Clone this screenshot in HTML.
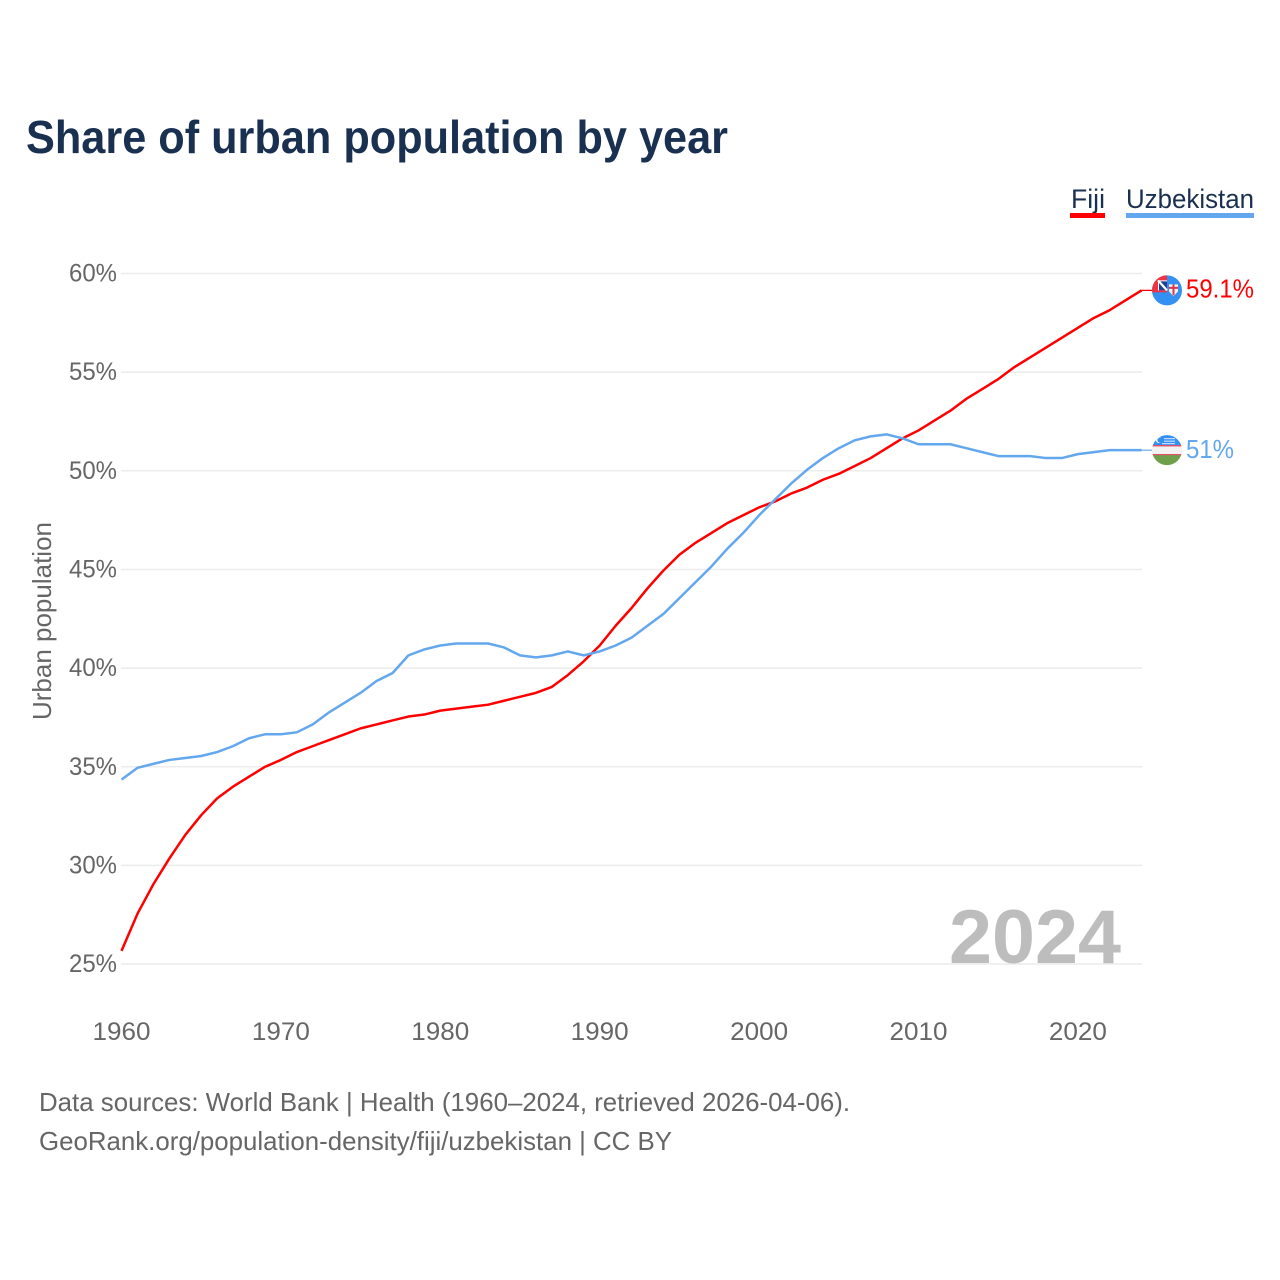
<!DOCTYPE html>
<html lang="en">
<head>
<meta charset="utf-8">
<title>Share of urban population by year</title>
<style>
html,body{margin:0;padding:0;background:#fff;width:1280px;height:1280px;overflow:hidden}
svg{display:block;font-family:"Liberation Sans",sans-serif}
</style>
</head>
<body>
<svg id="chart" width="1280" height="1280" viewBox="0 0 1280 1280" xmlns="http://www.w3.org/2000/svg">
<rect width="1280" height="1280" fill="#fff"/>
<text x="26" y="153" font-size="46" font-weight="700" fill="#1a3050" textLength="702" lengthAdjust="spacingAndGlyphs">Share of urban population by year</text>
<g>
<g>
<text x="1071" y="208" font-size="27" fill="#1a3050" textLength="34" lengthAdjust="spacingAndGlyphs">Fiji</text>
<rect x="1070" y="213" width="35" height="5" fill="#ff0000"/>
</g>
<g>
<text x="1126" y="208" font-size="27" fill="#1a3050" textLength="128" lengthAdjust="spacingAndGlyphs">Uzbekistan</text>
<rect x="1126" y="213" width="128" height="5" fill="#63a7ee"/>
</g>
</g>
<g id="grid"></g>
<g id="yticks"></g>
<g id="xticks"></g>
<text transform="translate(51,720) rotate(-90)" font-size="26" fill="#666" textLength="198" lengthAdjust="spacingAndGlyphs">Urban population</text>
<text x="949" y="963" font-size="76" font-weight="700" fill="#bdbdbd" textLength="172" lengthAdjust="spacingAndGlyphs">2024</text>
<g id="series"></g>
<g id="ends"></g>
<text x="39" y="1111" font-size="26" fill="#666" textLength="811" lengthAdjust="spacingAndGlyphs">Data sources: World Bank | Health (1960–2024, retrieved 2026-04-06).</text>
<text x="39" y="1150" font-size="26" fill="#666" textLength="633" lengthAdjust="spacingAndGlyphs">GeoRank.org/population-density/fiji/uzbekistan | CC BY</text>
</svg>
<script>
const startYear = 1960;
const yTickValues = [25, 30, 35, 40, 45, 50, 55, 60];
const xTickValues = [1960, 1970, 1980, 1990, 2000, 2010, 2020];
const fijiValues = [25.62,27.5,29.0,30.3,31.5,32.5,33.35,33.95,34.45,34.95,35.3,35.7,36.0,36.3,36.6,36.9,37.1,37.3,37.5,37.6,37.8,37.9,38.0,38.1,38.3,38.5,38.7,39.0,39.6,40.3,41.1,42.1,43.0,44.0,44.9,45.7,46.3,46.8,47.3,47.7,48.1,48.4,48.8,49.1,49.5,49.8,50.2,50.6,51.1,51.6,52.0,52.5,53.0,53.6,54.1,54.6,55.2,55.7,56.2,56.7,57.2,57.7,58.1,58.6,59.1];
const uzbekistanValues = [34.3,34.9,35.1,35.3,35.4,35.5,35.7,36.0,36.4,36.6,36.6,36.7,37.1,37.7,38.2,38.7,39.3,39.7,40.6,40.9,41.1,41.2,41.2,41.2,41.0,40.6,40.5,40.6,40.8,40.6,40.8,41.1,41.5,42.1,42.7,43.5,44.3,45.1,46.0,46.8,47.7,48.5,49.3,50.0,50.6,51.1,51.5,51.7,51.8,51.6,51.3,51.3,51.3,51.1,50.9,50.7,50.7,50.7,50.6,50.6,50.8,50.9,51.0,51.0,51.0];

const SVGNS = 'http://www.w3.org/2000/svg';
function xScale(year) { return 121.5 + (year - 1960) * 15.94; }
function yScale(v) { return 272.6 + (60 - v) * 19.73; }
function gridY(v) { return yScale(v) + 0.9; }
function mk(parent, tag, attrs, text) {
  const el = document.createElementNS(SVGNS, tag);
  for (const k in attrs) el.setAttribute(k, attrs[k]);
  if (text !== undefined) el.textContent = text;
  parent.appendChild(el);
  return el;
}
const grid = document.getElementById('grid');
const yticks = document.getElementById('yticks');
const xticks = document.getElementById('xticks');
const series = document.getElementById('series');
const ends = document.getElementById('ends');

yTickValues.forEach(function (v) {
  const line = mk(grid, 'line', {x1: 121, x2: 1142, y1: gridY(v), y2: gridY(v), stroke: '#ececec', 'stroke-width': 1.5});
  
  
  const label = mk(yticks, 'text', {x: 117, y: gridY(v) + 8, 'text-anchor': 'end', 'font-size': 25, fill: '#666', textLength: 48, lengthAdjust: 'spacingAndGlyphs'}, v + '%');
  
  
});
xTickValues.forEach(function (y) {
  const label = mk(xticks, 'text', {x: xScale(y), y: 1040, 'text-anchor': 'middle', 'font-size': 25, fill: '#666', textLength: 58, lengthAdjust: 'spacingAndGlyphs'}, String(y));
  
  
});
function pathFor(values) {
  return values.map(function (v, i) {
    return (i ? 'L' : 'M') + xScale(startYear + i).toFixed(2) + ' ' + yScale(v).toFixed(2);
  }).join('');
}
const fijiLine = mk(series, 'path', {d: pathFor(fijiValues), fill: 'none', stroke: '#ff0000', 'stroke-width': 2.5, 'stroke-linejoin': 'round'});


const uzLine = mk(series, 'path', {d: pathFor(uzbekistanValues), fill: 'none', stroke: '#63a7ee', 'stroke-width': 2.5, 'stroke-linejoin': 'round'});



/* end markers */
const lastYear = startYear + fijiValues.length - 1;
const fx = xScale(lastYear), cx = 1167;
const fv = fijiValues[fijiValues.length - 1], uv = uzbekistanValues[uzbekistanValues.length - 1];
const fy = yScale(fv), uy = yScale(uv);

const fijiLead = mk(ends, 'line', {x1: fx, x2: cx, y1: fy, y2: fy, stroke: '#ff0000', 'stroke-width': 1.2});


const uzLead = mk(ends, 'line', {x1: fx, x2: cx, y1: uy, y2: uy, stroke: '#63a7ee', 'stroke-width': 1.2});



const defs = mk(ends, 'defs', {});
const cp1 = mk(defs, 'clipPath', {id: 'clipFiji'});
mk(cp1, 'circle', {cx: cx, cy: fy, r: 15});
const cp2 = mk(defs, 'clipPath', {id: 'clipUz'});
mk(cp2, 'circle', {cx: cx, cy: uy, r: 15});

const fg = mk(ends, 'g', {'clip-path': 'url(#clipFiji)'});


mk(fg, 'rect', {x: cx - 16, y: fy - 16, width: 32, height: 32, fill: '#3590f3'});
mk(fg, 'rect', {x: cx - 16, y: fy - 16, width: 16, height: 18, fill: '#ef3340'});
mk(fg, 'rect', {x: cx - 9, y: fy - 10, width: 9, height: 10, fill: '#fff'});
mk(fg, 'rect', {x: cx - 8, y: fy - 9, width: 8, height: 9, fill: '#23408f'});
mk(fg, 'path', {d: 'M' + (cx - 9) + ' ' + (fy - 10) + 'l9 10', stroke: '#fff', 'stroke-width': 2.2});
mk(fg, 'path', {d: 'M' + (cx + 2) + ' ' + (fy - 6) + 'h9v7l-4.5 5l-4.5 -5z', fill: '#f6f2ee'});
mk(fg, 'rect', {x: cx + 5.5, y: fy - 6, width: 2, height: 11, fill: '#d8384a'});
mk(fg, 'rect', {x: cx + 2, y: fy - 3.5, width: 9, height: 2, fill: '#d8384a'});

const ug = mk(ends, 'g', {'clip-path': 'url(#clipUz)'});


mk(ug, 'rect', {x: cx - 16, y: uy - 16, width: 32, height: 11, fill: '#3590f3'});
mk(ug, 'rect', {x: cx - 16, y: uy - 5, width: 32, height: 4, fill: '#f2f2f2'});
mk(ug, 'rect', {x: cx - 16, y: uy - 1, width: 32, height: 6, fill: '#f2f2f2'});
mk(ug, 'rect', {x: cx - 16, y: uy - 5, width: 32, height: 1.2, fill: '#e0304a'});
mk(ug, 'rect', {x: cx - 16, y: uy + 4, width: 32, height: 1.2, fill: '#e0304a'});
mk(ug, 'rect', {x: cx - 16, y: uy + 5, width: 32, height: 12, fill: '#6f9f4a'});
mk(ug, 'circle', {cx: cx - 8, cy: uy - 10, r: 3, fill: '#fff'});
mk(ug, 'circle', {cx: cx - 7, cy: uy - 10, r: 2.6, fill: '#3590f3'});
mk(ug, 'rect', {x: cx - 3, y: uy - 12, width: 11, height: 1, fill: '#dfeafa'});
mk(ug, 'rect', {x: cx - 3, y: uy - 9.5, width: 11, height: 1, fill: '#dfeafa'});
mk(ug, 'rect', {x: cx - 5, y: uy - 7, width: 13, height: 1, fill: '#dfeafa'});

const fLabel = mk(ends, 'text', {x: 1186, y: fy + 7, 'font-size': 26, fill: '#ff0000', textLength: 68, lengthAdjust: 'spacingAndGlyphs'}, fv + '%');


const uLabel = mk(ends, 'text', {x: 1186, y: uy + 8, 'font-size': 26, fill: '#63a7ee', textLength: 48, lengthAdjust: 'spacingAndGlyphs'}, uv + '%');


</script>
</body>
</html>
